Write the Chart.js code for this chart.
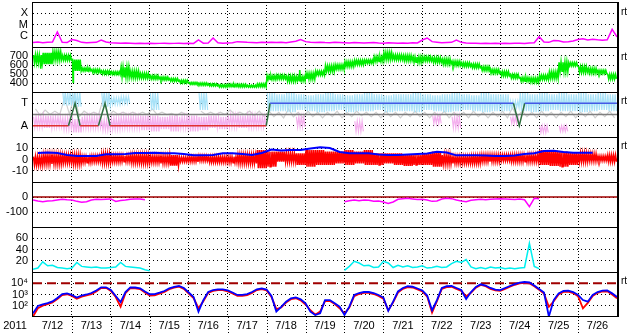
<!DOCTYPE html>
<html>
<head>
<meta charset="utf-8">
<script src="https://cdn.jsdelivr.net/npm/chart.js@4.4.1/dist/chart.umd.min.js"></script>
<style>
  html, body { margin: 0; padding: 0; background: #fff; }
  #wrap { position: relative; width: 633px; height: 334px; overflow: hidden; }
  #wrap canvas { position: absolute; left: 0; }
</style>
</head>
<body>
<div id="wrap"></div>
<script>
// x axis: days since 2011-07-12 00:00
const dayLabels = ['7/12','7/13','7/14','7/15','7/16','7/17','7/18','7/19','7/20','7/21','7/22','7/23','7/24','7/25','7/26'];
const yearLabel = '2011';

// X-ray flux (W/m2), 3 hour steps
const xray = [
  2.5e-7,2.8e-7,2.4e-7,2.6e-7,2.8e-7,2.2e-6,2.6e-7,2.5e-7,4.6e-7,3.8e-7,
  2.6e-7,2.4e-7,2.5e-7,2.6e-7,4.2e-7,2.8e-7,2.4e-7,2.3e-7,2.2e-7,2.3e-7,
  2.2e-7,2.1e-7,2.2e-7,2.1e-7,2.2e-7,2.0e-7,2.1e-7,2.2e-7,2.0e-7,2.1e-7,
  2.2e-7,2.1e-7,2.2e-7,2.1e-7,4.2e-7,2.2e-7,2.3e-7,6.3e-7,2.4e-7,2.2e-7,
  2.3e-7,2.4e-7,3.0e-7,2.8e-7,2.6e-7,2.5e-7,2.4e-7,2.6e-7,2.5e-7,2.7e-7,
  2.5e-7,2.6e-7,2.4e-7,2.8e-7,3.2e-7,4.6e-7,3.0e-7,2.6e-7,2.5e-7,2.7e-7,
  2.5e-7,2.4e-7,2.6e-7,2.5e-7,2.4e-7,2.3e-7,2.5e-7,2.4e-7,2.3e-7,2.4e-7,
  2.5e-7,2.3e-7,2.2e-7,2.4e-7,2.3e-7,2.2e-7,2.3e-7,2.2e-7,2.4e-7,2.3e-7,
  4.2e-7,6.3e-7,3.0e-7,2.7e-7,2.4e-7,2.5e-7,2.6e-7,4.2e-7,2.6e-7,2.3e-7,
  2.2e-7,2.2e-7,2.1e-7,2.2e-7,2.1e-7,2.2e-7,2.1e-7,2.2e-7,2.1e-7,2.2e-7,
  2.2e-7,2.1e-7,2.3e-7,2.4e-7,8.3e-7,2.8e-7,2.6e-7,3.8e-7,3.6e-7,2.8e-7,
  3.0e-7,3.4e-7,4.6e-7,5.5e-7,4.2e-7,5.0e-7,4.4e-7,4.0e-7,4.4e-7,3.7e-6,
  7.8e-7
];

// solar wind speed (km/s), 6 hour bins, upper / lower edge of the trace
const speedHi = [710,735,745,705,660,565,550,535,525,575,530,505,480,465,450,430,405,400,390,380,
                 385,385,375,390,480,485,475,470,505,530,590,600,635,650,655,690,735,710,705,690,
                 690,680,665,640,625,610,580,550,525,495,460,455,485,520,630,625,580,560,540,495];
const speedLo = [625,610,660,655,535,535,515,500,495,470,460,455,445,435,420,400,385,375,368,355,
                 360,358,355,360,440,445,420,425,445,490,530,555,585,605,620,640,665,660,650,630,
                 645,630,610,595,585,570,540,510,480,455,420,410,440,455,530,590,520,510,505,445];
const speedSpikes = [[0.2, 560], [1.03, 410], [6.85, 545]];

// IMF sector (T = 1, A = -1)
const sectorT = [0, 0.91, 1.08, 1.21, 1.68, 1.85, 1.98, 5.99, 6.09, 12.34, 12.49, 12.63, 15];
const sectorV = [-1, -1, 1, -1, -1, 1, -1, -1, 1, 1, -1, 1, 1];
// scatter of toward / away / mixed samples, 6 hour bins
const towardHi = [null,null,null,2.0,2.0,null,null,2.0,1.5,1.6,null,null,1.9,null,null,null,null,1.9,null,null,
                  null,null,null,null,1.9,1.8,1.9,1.8,1.7,1.8,1.9,1.8,1.7,1.8,1.9,1.8,1.7,1.8,1.8,1.9,
                  1.8,1.7,1.8,1.9,1.8,1.7,1.9,1.8,1.8,1.2,1.9,1.8,1.9,1.8,1.9,1.8,1.9,1.8,1.9,1.8];
const towardLo = [null,null,null,0.8,0.7,null,null,0.7,0.9,1.0,null,null,0.4,null,null,null,null,0.4,null,null,
                  null,null,null,null,0.3,0.3,0.2,0.4,0.3,0.2,0.3,0.4,0.2,0.3,0.3,0.4,0.2,0.3,0.3,0.2,
                  0.4,0.3,0.2,0.3,0.4,0.3,0.2,0.3,0.3,0.6,0.3,0.2,0.3,0.4,0.3,0.3,0.2,0.3,0.4,0.3];
const awayHi = [-0.2,-0.1,-0.2,-0.3,-0.4,-0.2,-0.2,-0.5,-0.3,-0.2,-0.2,-0.1,-0.1,-0.2,-0.1,-0.2,-0.1,-0.2,-0.1,-0.2,
                -0.1,-0.1,-0.1,-0.2,null,null,null,-0.2,null,null,null,null,null,-0.6,null,null,null,null,null,null,
                null,-0.1,null,-0.2,null,null,null,null,null,-0.2,null,null,-1.0,null,-1.0,null,null,null,null,null];
const awayLo = [-1.1,-1.2,-1.1,-1.3,-1.6,-1.2,-1.2,-1.4,-1.3,-1.2,-1.2,-1.4,-1.5,-1.3,-1.5,-1.2,-1.5,-1.4,-1.2,-1.3,
                -1.1,-1.2,-1.1,-1.1,null,null,null,-1.1,null,null,null,null,null,-1.5,null,null,null,null,null,null,
                null,-0.8,null,-1.2,null,null,null,null,null,-0.8,null,null,-1.6,null,-1.5,null,null,null,null,null];
const mixedHi = [0.5,0.4,0.3,1.5,1.8,0.3,0.2,1.5,0.3,0.2,0.2,0.2,0.5,0.2,0.1,0.2,null,0.3,0.2,0.2,
                 0.4,0.2,0.3,0.3,0.3,0.2,0.5,0.2,0.3,0.2,0.2,0.3,0.2,0.3,0.2,0.2,0.3,0.2,0.2,0.3,
                 0.2,0.2,0.3,0.2,0.2,0.3,0.2,0.2,0.3,0.6,0.3,0.2,0.3,0.2,0.2,0.3,0.2,0.3,0.2,0.3];
const mixedLo = [-0.1,0,0,0,-0.2,0,0,-0.1,0,0,0,0,0,0,-0.1,0,null,0,0,0,
                 0,0,-0.1,-0.2,-0.2,-0.3,-0.2,-0.3,-0.2,-0.3,-0.2,-0.3,-0.2,-0.1,-0.2,-0.3,-0.2,-0.3,-0.2,-0.2,
                 -0.3,-0.2,-0.3,-0.2,-0.3,-0.2,-0.3,-0.2,-0.3,-0.2,-0.2,-0.3,-0.2,-0.3,-0.2,-0.3,-0.2,-0.3,-0.2,-0.3];

// IMF Bt (nT), 6 hour bins
const bt = [5.8,6.2,5.8,4,3.1,3.1,3.1,4.6,4.6,4.9,5.8,5.8,6,5.5,5.5,4.9,3.7,3.7,4,5.5,
            5.5,4.9,4,5.8,8.9,8,8.4,8.4,9.8,10.8,10.2,6.7,5.5,5.5,5.5,4.4,4,4,4.4,4.9,
            5.3,6.9,6.2,3.7,3.7,3.7,3.6,3.1,3.1,3.6,4.9,5.5,7.6,7.8,6.7,6,6,6,null,3.1];
// IMF Bz (nT), 6 hour bins, upper / lower edge
const bzHi = [2.5,4,4,4,4,2.5,3,4.9,3.4,3.4,4,4,3.1,3.1,4,2,2.5,3.1,2.5,2.5,
              2.5,4,4,8.4,7,7,5.5,5.5,8.4,8.4,7,7,8.4,7,8.4,5.5,5.5,5.5,4.9,4,
              5.5,7,4,2.5,2.5,3,4,4,4,4,4,4,8.4,7.8,7,6,5.5,4.9,3,4];
const bzLo = [-4.9,-4,-4,-3,-4,-2.8,-2.2,-3.1,-2.2,-2,-3,-3.4,-2.8,-3.4,-5.5,-2,-2,-1.3,-2.5,-2.5,
              -2.8,-3.4,-3.4,-7.8,-6.4,-2,-2,-4.9,-6.4,-4.9,-4.9,-3.4,-4.9,-3.4,-4.9,-4.9,-3.4,-4.9,-5.8,-4.9,
              -4.9,-6.4,-4,-3.4,-3.4,-3.4,-2,-2,-1,-2,-2,-2,-4.9,-5.8,-6.4,-4.9,-2,-1.3,-1,-2];

// Dst (nT), 3 hour steps, two intervals
const dst1 = [-20,-27,-31,-27,-25,-20,-15,-18,-20,-29,-35,-31,-20,-15,-17,-15,-13,-30,-23,-20,-15,-13,-13,-18];
const dst2 = [-31,-25,-20,-25,-20,-22,-29,-27,-33,-43,-33,-15,-11,-9,-13,-17,-15,-20,-29,-27,
              -13,-9,-11,-20,-27,-31,-22,-18,-15,-18,-15,-13,-11,-13,-15,-17,-13,-18,-64,-9,-11];
const dst1Start = 0, dst2Start = 8;

// AE-like index, 3 hour steps, two intervals
const ae1 = [5,7,18,11,12,8,7,6,7,17,10,9,8,9,7,7,8,9,17,10,9,8,7,4,2];
const ae2 = [3,10,19,16,11,12,8,9,19,16,8,12,9,11,8,9,11,7,8,10,
             8,9,15,19,17,22,9,6,8,6,9,7,8,6,7,6,7,8,51,10,6];
const ae1Start = 0, ae2Start = 8;

// electron flux, 3 hour steps
const fluxBlue = [21,95,130,170,240,490,1100,1260,910,540,810,1000,1350,2300,4370,4370,2500,740,210,1660,
                  4370,4200,3550,1860,1050,1100,1450,2050,3550,4650,5700,3800,1500,600,30,320,1660,2500,2900,2900,
                  2300,1500,910,910,1100,1660,2900,3550,2750,740,30,78,230,460,560,370,165,30,15,21,
                  320,320,165,83,15,83,910,1350,1660,1660,1350,910,540,35,230,1860,3800,5400,4900,3400,
                  2300,810,40,320,3800,5400,5700,3800,2500,400,1660,4650,8100,6300,3800,2750,2500,3800,5700,8500,
                  11200,12900,11700,6300,3100,1500,11,320,1260,2050,2200,1660,910,320,230,910,1660,2200,2300,1260,
                  600];
const fluxRed = [11,60,100,140,200,400,900,1050,750,420,650,850,1100,1900,3800,3900,2100,600,83,1300,
                 3700,3600,3000,1500,800,850,1200,1700,3000,4000,4900,3200,1200,480,60,250,1400,2100,2500,2500,
                 1900,1250,750,750,900,1400,2500,3000,2300,600,50,70,190,380,460,300,130,40,16,30,
                 260,260,140,60,20,70,700,1100,1400,1400,1100,750,420,40,200,1500,3200,4600,4200,2900,
                 1900,650,25,250,3200,4600,4900,3200,2100,700,1400,4000,7000,5500,3200,2300,2100,3200,4900,7300,
                 9600,11000,10000,5400,2600,1200,80,250,1000,1700,1800,1350,700,60,180,750,1400,1850,1900,1000,
                 450];
const fluxAlert = 1e4;

const DAYS = 15;
const FONT = "'Liberation Sans', Arial, sans-serif";

function steps(vals, step, start) {
  return vals.map((v, i) => ({ x: start + i * step, y: v }));
}
function joinParts(a, b) {
  return a.concat([{ x: (a[a.length - 1].x + b[0].x) / 2, y: null }], b);
}
// noisy trace drawn as a dense zigzag between the upper and lower edge of each bin
function zigzag(hi, lo, step, n, extra) {
  const pts = [];
  hi.forEach((h, i) => {
    if (h === null) { pts.push({ x: (i + 0.5) * step, y: null }); return; }
    for (let k = 0; k < n; k++) pts.push({ x: (i + (k + 0.5) / n) * step, y: k % 2 ? lo[i] : h });
  });
  (extra || []).forEach(p => pts.push({ x: p[0], y: p[1] }));
  return pts.sort((a, b) => a.x - b.x);
}
function flat(v) { return [{ x: 0, y: v }, { x: DAYS, y: v }]; }
function line(data, color, width, extra) {
  return Object.assign({ data, borderColor: color, borderWidth: width, pointRadius: 0, fill: false, spanGaps: false }, extra || {});
}
function noPad(s) { s.paddingTop = 0; s.paddingBottom = 0; s.paddingLeft = 0; s.paddingRight = 0; }

const frame = {
  id: 'frame',
  afterDraw(chart, args, o) {
    const { ctx, chartArea: a } = chart;
    ctx.save();
    ctx.strokeStyle = '#000';
    ctx.lineWidth = 1;
    ctx.beginPath();
    ctx.moveTo(a.left - 0.5, a.top); ctx.lineTo(a.left - 0.5, a.bottom);
    ctx.moveTo(a.left - 1, a.top + 0.5); ctx.lineTo(a.right + 1, a.top + 0.5);
    if (o.bottom) { ctx.moveTo(a.left - 1, a.bottom - 0.5); ctx.lineTo(a.right + 1, a.bottom - 0.5); }
    ctx.stroke();
    ctx.lineWidth = 2;
    ctx.beginPath(); ctx.moveTo(a.right + 1, a.top); ctx.lineTo(a.right + 1, a.bottom); ctx.stroke();
    ctx.fillStyle = '#000';
    if (o.rt) {
      ctx.font = '10px ' + FONT;
      ctx.textBaseline = 'middle'; ctx.textAlign = 'left';
      ctx.fillText('rt', a.right + 4, a.top + o.rt);
    }
    if (o.bottom) {
      // dotted day lines continue under the plot
      const xs = chart.scales.x;
      ctx.lineWidth = 1; ctx.setLineDash([1, 2]);
      ctx.beginPath();
      for (let d = 1; d < DAYS; d++) {
        const px = Math.round(xs.getPixelForValue(d)) + 0.5;
        ctx.moveTo(px, a.bottom); ctx.lineTo(px, chart.height);
      }
      ctx.stroke();
      ctx.setLineDash([]);
      ctx.font = '11px ' + FONT;
      ctx.textAlign = 'center'; ctx.textBaseline = 'middle';
      ctx.fillText(yearLabel, 15, a.bottom + 9);
    }
    ctx.restore();
  }
};

function xScale(last) {
  return {
    type: 'linear', min: 0, max: DAYS,
    afterBuildTicks: s => { s.ticks = []; for (let v = 0; v <= DAYS; v += last ? 0.5 : 1) s.ticks.push({ value: v }); },
    afterFit: s => { s.height = last ? 17 : 0; noPad(s); },
    grid: { drawTicks: false, lineWidth: 1,
      color: c => (c.tick && c.tick.value % 1 === 0 && c.tick.value > 0 && c.tick.value < DAYS) ? '#000' : 'rgba(0,0,0,0)' },
    border: { display: false, dash: [1, 2] },
    ticks: { display: !!last, autoSkip: false, maxRotation: 0, padding: 2, color: '#000',
      font: { family: FONT, size: 11 },
      callback: v => (v % 1 ? dayLabels[Math.floor(v)] : '') }
  };
}
function yScale(o) {
  return {
    type: o.type || 'linear', min: o.min, max: o.max,
    afterBuildTicks: s => { s.ticks = o.ticks.map(v => ({ value: v })); },
    afterFit: s => { s.width = 33; noPad(s); },
    grid: { drawTicks: false, lineWidth: 1, color: '#000' },
    border: { display: false, dash: [1, 3] },
    ticks: { autoSkip: false, padding: 5, color: '#000', font: { family: FONT, size: 11 }, callback: (v, i) => o.labels[i] }
  };
}

const wrap = document.getElementById('wrap');
function panel(top, height, padTop, y, datasets, frameOpts, last) {
  const c = document.createElement('canvas');
  c.width = 633; c.height = height;
  c.style.width = '633px'; c.style.height = height + 'px'; c.style.top = top + 'px';
  wrap.appendChild(c);
  return new Chart(c, {
    type: 'line',
    data: { datasets },
    options: {
      responsive: false, animation: false, events: [],
      layout: { padding: { top: padTop, right: 16, left: 0, bottom: 0 } },
      plugins: { legend: { display: false }, tooltip: { enabled: false }, frame: frameOpts },
      elements: { point: { radius: 0 }, line: { tension: 0 } },
      scales: { x: xScale(last), y: yScale(y) }
    },
    plugins: [frame]
  });
}

// 1: X-ray
panel(0, 47, 2, { type: 'logarithmic', min: 1e-7, max: 1e-3, ticks: [1e-6, 1e-5, 1e-4], labels: ['C', 'M', 'X'] },
  [line(steps(xray, 0.125, 0), '#ff00ff', 1.5)], { rt: 10 });

// 2: solar wind speed
panel(47, 45, 0, { min: 300, max: 800, ticks: [400, 500, 600, 700], labels: ['400', '500', '600', '700'] },
  [line(zigzag(speedHi, speedLo, 0.25, 10, speedSpikes), '#00ee00', 1.6)], { rt: 10 });

// 3: IMF sector
const sectorPts = sectorT.map((t, i) => ({ x: t, y: sectorV[i] }));
panel(92, 45, 0, { min: -2, max: 2, ticks: [-1, 1], labels: ['A', 'T'] },
  [
    line(sectorPts, '#2f6f3f', 1.5, { segment: { borderColor: s => {
      const a = s.p0.parsed.y, b = s.p1.parsed.y;
      return a === b ? (a > 0 ? '#4459e6' : '#e03030') : '#2f6f3f';
    } } }),
    line(flat(0), '#808080', 1.5),
    line(zigzag(towardHi, towardLo, 0.25, 8), '#a8e2f8', 1.2),
    line(zigzag(awayHi, awayLo, 0.25, 8), '#f4b0ee', 1.2),
    line(zigzag(mixedHi, mixedLo, 0.25, 2), '#cfcfcf', 1.2)
  ], { rt: 9 });

// 4: IMF Bt / Bz
panel(137, 45, 0, { min: -20, max: 20, ticks: [-10, 0, 10], labels: ['-10', '0', '10'] },
  [
    line(steps(bt, 0.25, 0.125), '#0000ff', 2),
    line(zigzag(bzHi, bzLo, 0.25, 10), '#ff0000', 1.5),
    line(flat(0), '#a00000', 1.5)
  ], { rt: 9 });

// 5: Dst
panel(182, 45, 0, { min: -200, max: 100, ticks: [-100, 0], labels: ['-100', '0'] },
  [
    line(joinParts(steps(dst1, 0.125, dst1Start), steps(dst2, 0.125, dst2Start)), '#ff00ff', 1.5),
    line(flat(0), '#a00000', 1.5)
  ], {});

// 6: activity index
panel(227, 45, 0, { min: 0, max: 80, ticks: [20, 40, 60], labels: ['20', '40', '60'] },
  [line(joinParts(steps(ae1, 0.125, ae1Start), steps(ae2, 0.125, ae2Start)), '#00f0f0', 1.5)], {});

// 7: electron flux
panel(272, 62, 0, { type: 'logarithmic', min: 10, max: 1e5, ticks: [100, 1000, 10000], labels: ['10²', '10³', '10⁴'] },
  [
    line(steps(fluxBlue, 0.125, 0), '#0000ff', 1.8),
    line(steps(fluxRed, 0.125, 0), '#ff0000', 1.8),
    line(flat(fluxAlert), '#a00000', 2, { borderDash: [9, 5] })
  ], { rt: 9, bottom: true }, true);
</script>
</body>
</html>
